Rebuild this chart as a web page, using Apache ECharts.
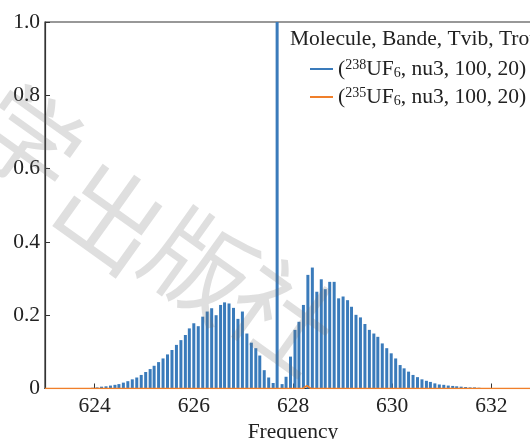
<!DOCTYPE html>
<html>
<head>
<meta charset="utf-8">
<script src="https://cdn.jsdelivr.net/npm/echarts@6/dist/echarts.min.js"></script>
<style>
html,body{margin:0;padding:0;background:#fff;}
#chart{width:530px;height:439px;}
</style>
</head>
<body>
<div id="chart"></div>
<script>
// ---- data ----
const leftFreq = [627.60, 627.51, 627.42, 627.33, 627.25, 627.16, 627.07, 626.98, 626.89, 626.80,
  626.71, 626.62, 626.54, 626.45, 626.36, 626.27, 626.18, 626.09, 626.00, 625.91,
  625.83, 625.74, 625.65, 625.56, 625.47, 625.38, 625.29, 625.20, 625.12, 625.03,
  624.94, 624.85, 624.76, 624.67, 624.58, 624.49, 624.41, 624.32, 624.23, 624.14,
  624.05, 623.96];
const leftVal = [0.015, 0.030, 0.050, 0.090, 0.110, 0.125, 0.150, 0.210, 0.190, 0.220,
  0.232, 0.235, 0.228, 0.200, 0.219, 0.210, 0.196, 0.170, 0.178, 0.164,
  0.146, 0.132, 0.119, 0.105, 0.093, 0.082, 0.072, 0.062, 0.053, 0.045,
  0.037, 0.030, 0.025, 0.020, 0.016, 0.012, 0.010, 0.008, 0.006, 0.005,
  0.003, 0.002];
const qFreq = [627.68, 627.78];
const qVal = [1.3, 0.012];
const rightFreq = [627.86, 627.95, 628.04, 628.12, 628.21, 628.30, 628.39, 628.48, 628.57, 628.65,
  628.74, 628.83, 628.92, 629.01, 629.10, 629.18, 629.27, 629.36, 629.45, 629.54,
  629.63, 629.71, 629.80, 629.89, 629.98, 630.07, 630.16, 630.24, 630.33, 630.42,
  630.51, 630.60, 630.69, 630.77, 630.86, 630.95, 631.04, 631.13, 631.22, 631.30,
  631.39, 631.48, 631.57, 631.66, 631.75];
const rightVal = [0.032, 0.087, 0.160, 0.182, 0.228, 0.310, 0.330, 0.264, 0.298, 0.271,
  0.291, 0.291, 0.246, 0.251, 0.241, 0.223, 0.201, 0.194, 0.176, 0.160,
  0.150, 0.141, 0.123, 0.110, 0.096, 0.082, 0.064, 0.055, 0.046, 0.037,
  0.031, 0.025, 0.021, 0.018, 0.014, 0.011, 0.010, 0.008, 0.007, 0.006,
  0.005, 0.004, 0.003, 0.003, 0.002];
const orangeFreq = [623.0, 628.20, 628.28, 628.36, 634.0];
const orangeVal = [0, 0, 0.008, 0, 0];
const xTicks = [624, 626, 628, 630, 632];
const isotopes = ['238', '235'];
const legendTitle = 'Molecule, Bande, Tvib, Trot';
const xLabel = 'Frequency';
const watermark = ['学', '出', '版', '社'];

// ---- build ----
const blue = '#3a7bbb', orange = '#f07f2a';
const serif = 'Liberation Serif';
const fs = 21.5;
const blueData = [];
leftFreq.forEach((f, i) => blueData.push([f, leftVal[i]]));
qFreq.forEach((f, i) => blueData.push([f, qVal[i]]));
rightFreq.forEach((f, i) => blueData.push([f, rightVal[i]]));
const orangeData = orangeFreq.map((f, i) => [f, orangeVal[i]]);
const names = isotopes.map(n => '(' + n + 'UF6, nu3, 100, 20)');

const wmPos = [[28, 140], [110, 216], [200, 265], [284, 316]];
const graphics = [{
  type: 'text', left: 290, top: 28, z: 50,
  style: { text: legendTitle, font: fs + 'px "Liberation Serif"', fill: '#222' }
}];
watermark.forEach((c, i) => graphics.push({
  type: 'text', x: wmPos[i][0], y: wmPos[i][1], rotation: -0.62, z: 100,
  style: { text: c, font: '104px "Noto Sans CJK SC"', fill: 'rgba(110,110,110,0.22)',
    align: 'center', verticalAlign: 'middle' }
}));

const chart = echarts.init(document.getElementById('chart'), null, { renderer: 'canvas' });
chart.setOption({
  animation: false,
  backgroundColor: '#fff',
  grid: { left: 45, top: 22, bottom: 50.5, right: -11, containLabel: false, outerBoundsMode: 'none',
    show: true, borderColor: '#333', borderWidth: 1.2 },
  xAxis: {
    type: 'value', min: 623, max: 633,
    name: xLabel, nameLocation: 'middle', nameGap: 33, nameMoveOverlap: false,
    nameTextStyle: { fontFamily: serif, fontSize: fs, color: '#222' },
    axisLine: { show: true, onZero: false, lineStyle: { color: '#333', width: 1.2 } },
    axisTick: { show: true, inside: true, length: 5, customValues: xTicks, lineStyle: { color: '#333' } },
    axisLabel: { customValues: xTicks, fontFamily: serif, fontSize: fs, color: '#222', margin: 7 },
    splitLine: { show: false }
  },
  yAxis: {
    type: 'value', min: 0, max: 1, interval: 0.2,
    axisLine: { show: true, lineStyle: { color: '#333', width: 1.2 } },
    axisTick: { show: true, inside: true, length: 5, lineStyle: { color: '#333' } },
    axisLabel: { fontFamily: serif, fontSize: fs, color: '#222', margin: 5,
      formatter: v => (v === 0 ? '0' : v.toFixed(1)) },
    splitLine: { show: false }
  },
  legend: {
    orient: 'vertical', left: 305, top: 53, itemWidth: 23, itemHeight: 2, itemGap: 6,
    icon: 'rect',
    data: [{ name: names[0], itemStyle: { color: blue } }, { name: names[1], itemStyle: { color: orange } }],
    formatter: name => {
      const iso = isotopes[names.indexOf(name)];
      return '{n|(}{sup|' + iso + '}{n|UF}{sub|6}{n|, nu3, 100, 20)}';
    },
    textStyle: {
      fontFamily: serif, fontSize: fs, color: '#222',
      rich: {
        n: { fontFamily: serif, fontSize: fs, color: '#222', lineHeight: 22 },
        sup: { fontFamily: serif, fontSize: 14, color: '#222', verticalAlign: 'top', lineHeight: 22, padding: [0, 0, 8, 0] },
        sub: { fontFamily: serif, fontSize: 14, color: '#222', verticalAlign: 'bottom', lineHeight: 22, padding: [8, 0, 0, 0] }
      }
    }
  },
  graphic: graphics,
  series: [
    {
      name: names[0], type: 'bar', data: blueData, barWidth: 3, clip: true,
      itemStyle: { color: blue }, z: 2
    },
    {
      name: names[1], type: 'line', data: orangeData, showSymbol: false, clip: true,
      lineStyle: { color: orange, width: 1.6 }, itemStyle: { color: orange }, z: 3
    }
  ]
});
</script>
</body>
</html>
